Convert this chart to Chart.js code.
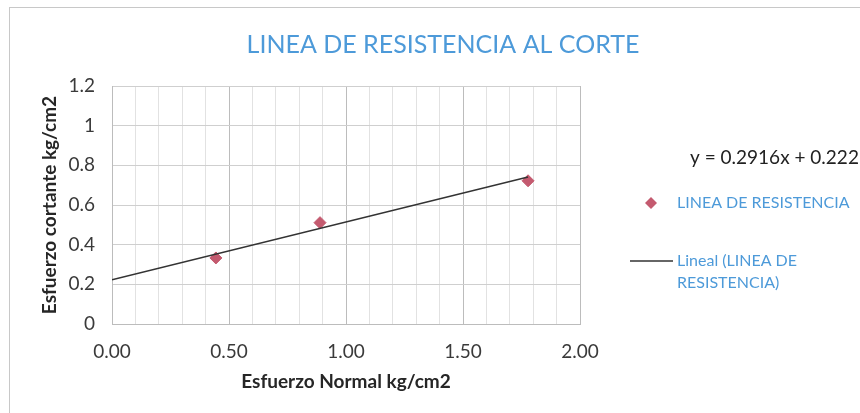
<!DOCTYPE html>
<html>
<head>
<meta charset="utf-8">
<script src="https://cdn.jsdelivr.net/npm/chart.js@4"></script>
<style>
  html, body { margin: 0; padding: 0; background: #ffffff; }
  #wrap { width: 860px; height: 413px; position: relative; }
</style>
</head>
<body>
<div id="wrap"><canvas id="grafico" width="860" height="413"></canvas></div>
<script>
// valores
const esfuerzoNormal = [0.444, 0.889, 1.778];
const esfuerzoCortante = [0.333, 0.511, 0.722];
// extremos de la linea de tendencia (y = 0.2916x + 0.2227)
const tendenciaX = [0, 1.778];
const tendenciaY = [0.2227, 0.741];
const ecuacion = "y = 0.2916x + 0.2227";
const titulo = "LINEA DE RESISTENCIA AL CORTE";

const azul = "#4d9ad9";
const rosa = "#c45a6f";
const fuente = "Lato, 'Open Sans', sans-serif";

const puntos = esfuerzoNormal.map((x, i) => ({ x: x, y: esfuerzoCortante[i] }));
const tendencia = tendenciaX.map((x, i) => ({ x: x, y: tendenciaY[i] }));

const decorado = {
    id: "decorado",
    beforeDraw(chart) {
        const ctx = chart.ctx;
        ctx.save();
        ctx.fillStyle = "#ffffff";
        ctx.fillRect(0, 0, chart.width, chart.height);
        ctx.strokeStyle = "#c8c8c8";
        ctx.lineWidth = 1;
        ctx.strokeRect(9.5, 7.5, chart.width + 20, chart.height + 20);
        ctx.restore();
    },
    afterDraw(chart) {
        const ctx = chart.ctx;
        const ds = chart.data.datasets;
        ctx.save();
        ctx.textBaseline = "middle";

        // titulo
        ctx.textAlign = "center";
        ctx.font = "25px " + fuente;
        ctx.fillStyle = azul;
        ctx.fillText(titulo, 443, 45);

        ctx.textAlign = "left";
        ctx.font = "19px " + fuente;
        ctx.fillStyle = "#222222";
        ctx.fillText(ecuacion, 690, 158);

        // serie de puntos
        ctx.fillStyle = rosa;
        ctx.beginPath();
        ctx.moveTo(651, 197);
        ctx.lineTo(657, 203);
        ctx.lineTo(651, 209);
        ctx.lineTo(645, 203);
        ctx.closePath();
        ctx.fill();
        ctx.font = "16px " + fuente;
        ctx.fillStyle = azul;
        ctx.fillText(ds[0].label, 677, 203);

        // linea de tendencia
        ctx.strokeStyle = "#333333";
        ctx.lineWidth = 1.5;
        ctx.beginPath();
        ctx.moveTo(630, 261);
        ctx.lineTo(673, 261);
        ctx.stroke();
        const partes = ds[1].label.split(" RESISTENCIA");
        ctx.fillText(partes[0], 677, 261);
        ctx.fillText("RESISTENCIA" + partes[1], 677, 283);
        ctx.restore();
    },
};

const esMayor = (v) => Math.abs(v * 2 - Math.round(v * 2)) < 1e-6;

new Chart(document.getElementById("grafico"), {
    type: "scatter",
    data: {
        datasets: [
            {
                label: "LINEA DE RESISTENCIA",
                data: puntos,
                pointStyle: "rectRot",
                pointRadius: 6,
                pointHoverRadius: 6,
                backgroundColor: rosa,
                borderColor: rosa,
                order: 2,
            },
            {
                label: "Lineal (LINEA DE RESISTENCIA)",
                type: "line",
                data: tendencia,
                borderColor: "#333333",
                borderWidth: 1.5,
                pointRadius: 0,
                fill: false,
                order: 1,
            },
        ],
    },
    options: {
        responsive: false,
        animation: false,
        layout: { padding: { left: 10, right: 280, top: 86, bottom: 12 } },
        plugins: {
            legend: { display: false },
            tooltip: { enabled: false },
            title: { display: false },
        },
        scales: {
            x: {
                type: "linear",
                min: 0,
                max: 2,
                ticks: {
                    stepSize: 0.1,
                    autoSkip: false,
                    maxRotation: 0,
                    padding: 16,
                    color: "#3a3a3a",
                    font: { size: 19, family: fuente },
                    callback: (v) => (esMayor(v) ? v.toFixed(2) : ""),
                },
                grid: {
                    drawTicks: false,
                    color: (c) => (c.tick && esMayor(c.tick.value) ? "#bcbcbc" : "#e2e2e2"),
                },
                border: { color: "#bcbcbc" },
                title: {
                    display: true,
                    text: "Esfuerzo Normal kg/cm2",
                    color: "#262626",
                    font: { size: 19, family: fuente, weight: "bold" },
                    padding: { top: 4, bottom: 8 },
                },
                afterFit: (escala) => {
                    escala.height = 77;
                },
            },
            y: {
                min: 0,
                max: 1.2,
                ticks: {
                    stepSize: 0.2,
                    padding: 17,
                    color: "#3a3a3a",
                    font: { size: 19, family: fuente },
                    callback: (v) => String(parseFloat(v.toFixed(1))),
                },
                grid: { drawTicks: false, color: "#cfcfcf" },
                border: { color: "#bcbcbc" },
                title: {
                    display: true,
                    text: "Esfuerzo cortante kg/cm2",
                    color: "#262626",
                    font: { size: 19, family: fuente, weight: "bold" },
                    padding: { top: 28, bottom: 4 },
                },
                afterFit: (escala) => {
                    escala.width = 102;
                },
            },
        },
    },
    plugins: [decorado],
});
</script>
</body>
</html>
